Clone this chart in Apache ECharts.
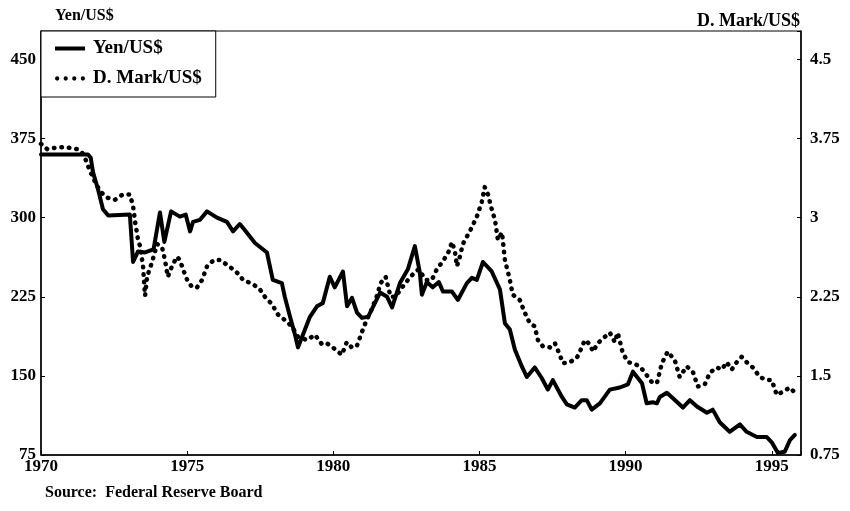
<!DOCTYPE html>
<html><head><meta charset="utf-8">
<script src="https://cdn.jsdelivr.net/npm/echarts@6/dist/echarts.min.js"></script>
<style>html,body{margin:0;padding:0;background:#fff}#c{width:850px;height:511px}</style>
</head><body><div id="c"></div>
<script>
const yenYears = [1970.00,1971.60,1971.70,1971.78,1971.95,1972.12,1972.30,1973.04,1973.15,1973.32,1973.56,1973.85,1974.07,1974.22,1974.45,1974.75,1974.95,1975.10,1975.20,1975.44,1975.68,1976.02,1976.36,1976.57,1976.80,1976.95,1977.32,1977.73,1977.93,1978.24,1978.34,1978.52,1978.69,1978.79,1979.20,1979.44,1979.64,1979.88,1980.05,1980.33,1980.47,1980.64,1980.81,1980.98,1981.19,1981.60,1981.84,1982.01,1982.28,1982.55,1982.79,1982.96,1983.03,1983.20,1983.40,1983.61,1983.75,1984.06,1984.26,1984.57,1984.74,1984.91,1985.12,1985.42,1985.70,1985.87,1986.04,1986.21,1986.45,1986.62,1986.89,1987.13,1987.34,1987.51,1987.82,1987.99,1988.26,1988.50,1988.67,1988.84,1989.12,1989.46,1989.80,1990.08,1990.25,1990.56,1990.72,1990.93,1991.07,1991.17,1991.41,1991.61,1991.96,1992.20,1992.44,1992.78,1992.98,1993.22,1993.56,1993.91,1994.14,1994.49,1994.83,1995.00,1995.21,1995.44,1995.62,1995.79];
const yenValues = [360,360,357,343,327,308,302,303,258,268,267,270,305,277,306,301,303,287,296,298,306,300,296,287,294,289,276,267,241,238,225,206,189,177,206,216,219,244,234,249,216,224,210,205,206,229,225,215,238,251,273,248,227,239,234,239,230,230,222,238,243,241,258,249,232,200,194,175,159,149,158,148,137,146,130,123,120,127,127,118,124,137,139,142,154,143,124,125,124,130,134,129,120,127,121,115,118,106,97,104,97,92,92,87,77,78,89,94];
const dmYears = [1970.00,1970.21,1970.41,1970.82,1971.23,1971.40,1971.50,1971.68,1971.85,1972.02,1972.26,1972.53,1972.80,1973.04,1973.15,1973.22,1973.32,1973.39,1973.49,1973.56,1973.63,1973.80,1973.97,1974.14,1974.24,1974.34,1974.48,1974.65,1974.75,1974.86,1975.00,1975.17,1975.34,1975.51,1975.68,1975.92,1976.12,1976.33,1976.57,1976.78,1976.91,1977.25,1977.49,1977.66,1977.90,1978.11,1978.34,1978.58,1978.79,1979.10,1979.37,1979.61,1979.78,1979.98,1980.29,1980.46,1980.63,1980.80,1980.97,1981.14,1981.31,1981.48,1981.62,1981.79,1981.96,1982.13,1982.30,1982.47,1982.64,1982.82,1982.92,1983.16,1983.37,1983.54,1983.78,1983.95,1984.06,1984.16,1984.23,1984.33,1984.43,1984.67,1984.91,1985.08,1985.18,1985.29,1985.42,1985.53,1985.63,1985.77,1985.87,1986.04,1986.14,1986.38,1986.55,1986.72,1986.89,1987.00,1987.17,1987.41,1987.58,1987.75,1987.85,1988.09,1988.33,1988.50,1988.60,1988.78,1988.88,1989.05,1989.29,1989.46,1989.63,1989.73,1989.90,1990.08,1990.25,1990.49,1990.66,1990.90,1991.07,1991.24,1991.44,1991.68,1991.85,1992.09,1992.30,1992.47,1992.71,1992.88,1993.12,1993.29,1993.46,1993.63,1993.80,1993.97,1994.14,1994.35,1994.59,1994.83,1995.00,1995.17,1995.38,1995.62,1995.79];
const dmValues = [3.70,3.65,3.66,3.67,3.65,3.62,3.57,3.44,3.34,3.25,3.19,3.17,3.22,3.22,3.11,2.96,2.79,2.73,2.54,2.26,2.44,2.58,2.75,2.72,2.60,2.44,2.54,2.63,2.60,2.51,2.41,2.34,2.34,2.41,2.54,2.60,2.60,2.56,2.51,2.46,2.41,2.37,2.32,2.25,2.18,2.08,2.03,1.97,1.87,1.84,1.89,1.80,1.81,1.77,1.70,1.82,1.77,1.78,1.91,2.03,2.13,2.25,2.38,2.44,2.25,2.25,2.32,2.38,2.44,2.49,2.51,2.41,2.41,2.51,2.60,2.68,2.77,2.68,2.54,2.63,2.75,2.87,3.01,3.15,3.29,3.22,3.08,2.98,2.79,2.86,2.60,2.41,2.27,2.22,2.10,2.00,1.97,1.84,1.78,1.77,1.81,1.70,1.62,1.63,1.67,1.77,1.84,1.80,1.73,1.81,1.87,1.91,1.82,1.91,1.72,1.63,1.62,1.59,1.53,1.44,1.43,1.62,1.73,1.65,1.49,1.59,1.54,1.40,1.42,1.53,1.58,1.56,1.63,1.56,1.63,1.68,1.63,1.58,1.49,1.46,1.46,1.32,1.35,1.39,1.34];
const yenTicks = [75,150,225,300,375,450];
const dmTicks = ['0.75','1.5','2.25','3','3.75','4.5'];
const yearTicks = [1970,1975,1980,1985,1990,1995];

const FONT = 'Liberation Serif';
const txt = {fontFamily: FONT, fontWeight: 'bold', fontSize: 17, color: '#000'};
const solidIcon = 'path://M0,0 L30,0 L30,4 L0,4 Z';
const dotIcon = 'path://M0,2 a2,2 0 1,0 4,0 a2,2 0 1,0 -4,0 Z M8,2 a2,2 0 1,0 4,0 a2,2 0 1,0 -4,0 Z M16,2 a2,2 0 1,0 4,0 a2,2 0 1,0 -4,0 Z M24,2 a2,2 0 1,0 4,0 a2,2 0 1,0 -4,0 Z';
const chart = echarts.init(document.getElementById('c'), null, {renderer: 'canvas'});
chart.setOption({
  backgroundColor: '#fff',
  animation: false,
  title: [
    {text: 'Yen/US$', left: 50, top: 3, textStyle: Object.assign({}, txt, {fontSize: 16})},
    {text: 'D. Mark/US$', right: 45, top: 7, textStyle: Object.assign({}, txt, {fontSize: 18})},
    {text: 'Source:  Federal Reserve Board', left: 40, top: 480, textStyle: Object.assign({}, txt, {fontSize: 16})}
  ],
  legend: {
    left: 41, top: 31, orient: 'vertical',
    data: [{name: 'Yen/US$', icon: solidIcon}, {name: 'D. Mark/US$', icon: dotIcon}],
    borderColor: '#000', borderWidth: 1,
    padding: [8, 14, 9, 14], itemGap: 11, itemWidth: 30, itemHeight: 12,
    itemStyle: {color: '#000'},
    textStyle: Object.assign({}, txt, {fontSize: 19, padding: [0, 0, 0, 3]}),
    backgroundColor: '#fff'
  },
  grid: {left: 41, right: 49, top: 31, bottom: 56, show: true, borderColor: '#000', borderWidth: 1},
  xAxis: {
    type: 'value', min: 1970, max: 1996, interval: 5,
    splitLine: {show: false},
    axisLine: {lineStyle: {color: '#000', width: 1.5}},
    axisTick: {inside: true, length: 4, lineStyle: {color: '#000'}},
    axisLabel: Object.assign({}, txt, {margin: 3,
      formatter: v => yearTicks.indexOf(Math.round(v)) >= 0 ? String(Math.round(v)) : ''})
  },
  yAxis: [
    {type: 'value', min: 75, max: 477, interval: 75, position: 'left',
     splitLine: {show: false},
     axisLine: {show: true, lineStyle: {color: '#000', width: 1.5}},
     axisTick: {show: true, inside: true, length: 4, lineStyle: {color: '#000'}},
     axisLabel: Object.assign({}, txt, {margin: 5,
       formatter: v => yenTicks.indexOf(Math.round(v)) >= 0 && Math.abs(v - Math.round(v)) < 1e-6 ? String(Math.round(v)) : ''})},
    {type: 'value', min: 0.75, max: 4.77, interval: 0.75, position: 'right',
     splitLine: {show: false},
     axisLine: {show: true, lineStyle: {color: '#000', width: 1.5}},
     axisTick: {show: true, inside: true, length: 4, lineStyle: {color: '#000'}},
     axisLabel: Object.assign({}, txt, {margin: 9,
       formatter: v => { const s = String(Math.round(v * 100) / 100); return dmTicks.indexOf(s) >= 0 ? s : ''; }})}
  ],
  series: [
    {name: 'Yen/US$', type: 'line', yAxisIndex: 0, symbol: 'none', smooth: false,
     data: yenYears.map((y, i) => [y, yenValues[i]]),
     lineStyle: {color: '#000', width: 4, join: 'round', cap: 'round'},
     itemStyle: {color: '#000'}},
    {name: 'D. Mark/US$', type: 'line', yAxisIndex: 1, symbol: 'none', smooth: false,
     data: dmYears.map((y, i) => [y, dmValues[i]]),
     lineStyle: {color: '#000', width: 4.5, type: [0.5, 7], cap: 'round', join: 'round'},
     itemStyle: {color: '#000'}}
  ]
});
</script></body></html>
